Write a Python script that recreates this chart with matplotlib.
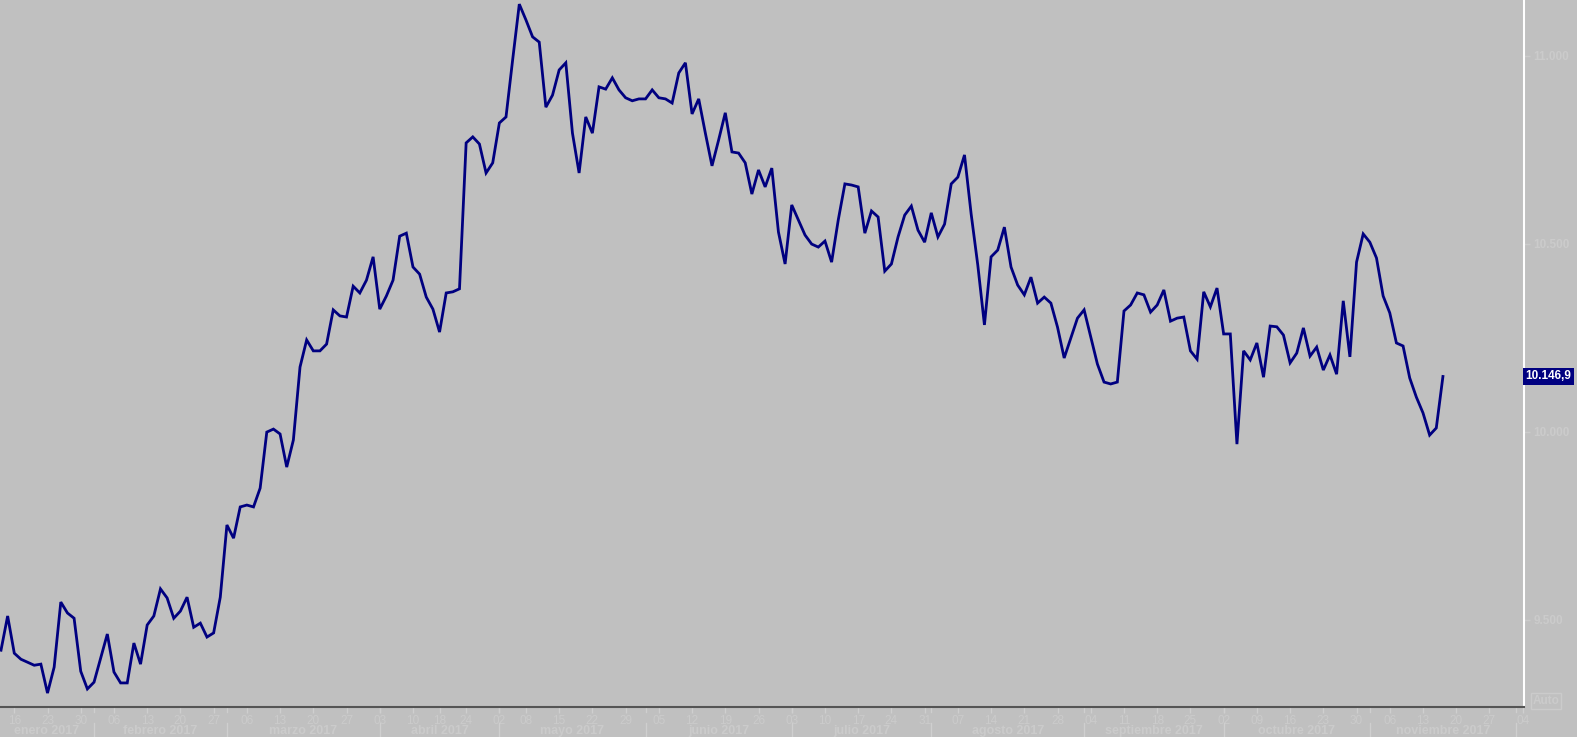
import matplotlib
matplotlib.use('Agg')
import matplotlib.pyplot as plt
import matplotlib.transforms as mtransforms
from matplotlib.lines import Line2D
import numpy as np
import pandas as pd

plt.rcParams['font.family'] = ['Liberation Sans', 'DejaVu Sans']

# sesiones bursátiles (sin festivos)
first_day = '2017-01-12'
last_day = '2017-12-08'
holidays = ['2017-04-14', '2017-04-17', '2017-05-01']

# cierres diarios
values = [
    9419, 9510, 9411, 9395, 9387, 9379, 9382, 9305, 9374, 9547,
    9518, 9504, 9363, 9316, 9334, 9398, 9462, 9361, 9332, 9332,
    9438, 9382, 9486, 9510, 9582, 9558, 9504, 9523, 9560, 9480,
    9491, 9454, 9465, 9560, 9752, 9717, 9800, 9805, 9800, 9850,
    9999, 10007, 9994, 9906, 9978, 10172, 10244, 10215, 10215, 10233,
    10324, 10308, 10305, 10387, 10369, 10403, 10465, 10326, 10361, 10403,
    10520, 10528, 10438, 10419, 10358, 10326, 10265, 10369, 10372, 10380,
    10768, 10784, 10765, 10688, 10715, 10821, 10837, 10989, 11137, 11095,
    11050, 11036, 10863, 10895, 10962, 10981, 10794, 10688, 10837, 10794,
    10917, 10911, 10941, 10909, 10888, 10880, 10885, 10885, 10909, 10888,
    10885, 10874, 10954, 10981, 10845, 10885, 10794, 10707, 10776, 10848,
    10744, 10741, 10715, 10632, 10696, 10651, 10701, 10531, 10446, 10603,
    10563, 10523, 10499, 10491, 10507, 10451, 10563, 10659, 10656, 10651,
    10528, 10587, 10571, 10427, 10446, 10518, 10576, 10600, 10536, 10504,
    10582, 10518, 10552, 10659, 10677, 10736, 10579, 10443, 10284, 10465,
    10483, 10544, 10438, 10390, 10364, 10411, 10342, 10358, 10342, 10278,
    10196, 10249, 10302, 10324, 10252, 10180, 10132, 10127, 10132, 10321,
    10337, 10369, 10364, 10318, 10337, 10377, 10294, 10302, 10305, 10215,
    10193, 10372, 10332, 10382, 10260, 10260, 9967, 10215, 10191, 10236,
    10145, 10281, 10279, 10257, 10183, 10209, 10276, 10201, 10225, 10164,
    10204, 10153, 10348, 10199, 10451, 10526, 10504, 10462, 10361, 10316,
    10236, 10228, 10143, 10092, 10050, 9991, 10010, 10146.9,
]
last_label = '10.146,9'

y_ticks = [9500, 10000, 10500, 11000]
y_labels = ['9.500', '10.000', '10.500', '11.000']
month_names = ['enero', 'febrero', 'marzo', 'abril', 'mayo', 'junio', 'julio',
               'agosto', 'septiembre', 'octubre', 'noviembre', 'diciembre']

bg = '#C0C0C0'
faint = '#CBCBCB'
navy = '#000080'

sessions = pd.bdate_range(first_day, last_day)
sessions = sessions[~sessions.isin(pd.to_datetime(holidays))]
x = np.arange(len(values))

x_min, x_max = -0.15, 229.2
y_min, y_max = 9268, 11148

fig = plt.figure(figsize=(15.77, 7.37), dpi=100, facecolor=bg)
ax = fig.add_axes([0, 1 - 707 / 737, 1524 / 1577, 707 / 737])
ax.set_facecolor(bg)
ax.plot(x, values, color=navy, lw=2.0, solid_joinstyle='miter')
ax.set_xlim(x_min, x_max)
ax.set_ylim(y_min, y_max)

for s in ['left', 'top']:
    ax.spines[s].set_visible(False)
ax.spines['bottom'].set_color('#555555')
ax.spines['bottom'].set_linewidth(1.5)
ax.spines['right'].set_color('white')
ax.spines['right'].set_linewidth(1.5)

# eje derecho
ax.yaxis.tick_right()
ax.set_yticks(y_ticks)
ax.set_yticklabels(y_labels)
ax.tick_params(axis='y', colors=faint, length=4, width=1, pad=3, labelsize=8.5)
for lbl in ax.get_yticklabels():
    lbl.set_fontweight('bold')

# semanas y meses
week_pos = []
month_pos = []
for i in range(1, len(sessions)):
    if i > x_max:
        break
    if sessions[i].isocalendar()[1] != sessions[i - 1].isocalendar()[1]:
        week_pos.append(i)
    if sessions[i].month != sessions[i - 1].month:
        month_pos.append(i)

ax.set_xticks(week_pos)
ax.set_xticklabels([sessions[i].strftime('%d') for i in week_pos])
ax.tick_params(axis='x', length=4, width=1, color='#CFCFCF', labelcolor=faint,
               labelsize=8.5, pad=2)

trans = mtransforms.blended_transform_factory(ax.transData, ax.transAxes)
for m in month_pos:
    ax.add_line(Line2D([m, m], [-16 / 707, -31 / 707], transform=trans,
                       color='#CFCFCF', lw=1, clip_on=False))
    ax.add_line(Line2D([m, m], [0, -5 / 707], transform=trans,
                       color='#CFCFCF', lw=1, clip_on=False))

bounds = [x_min] + month_pos
for k, b in enumerate(bounds):
    e = month_pos[k] if k < len(month_pos) else x_max
    if e - b < 8:
        continue
    mth = sessions[int(max(b, 0))].month
    ax.text((b + e) / 2, -24 / 707, month_names[mth - 1] + ' 2017',
            transform=trans, ha='center', va='center', fontsize=9,
            fontweight='bold', color=faint, clip_on=False)

# último valor
trans_y = mtransforms.blended_transform_factory(ax.transAxes, ax.transData)
ax.text(1.001, values[-1], last_label, transform=trans_y, ha='left', va='center',
        fontsize=8.5, fontweight='bold', color='white',
        bbox=dict(boxstyle='square,pad=0.22', fc=navy, ec='none'))

fig.text(1546 / 1577, 1 - 701 / 737, 'Auto', ha='center', va='center',
         fontsize=8.5, fontweight='bold', color=faint,
         bbox=dict(boxstyle='square,pad=0.15', fc='none', ec=faint, lw=1))

fig.savefig('out.png', dpi=100, facecolor=bg)
